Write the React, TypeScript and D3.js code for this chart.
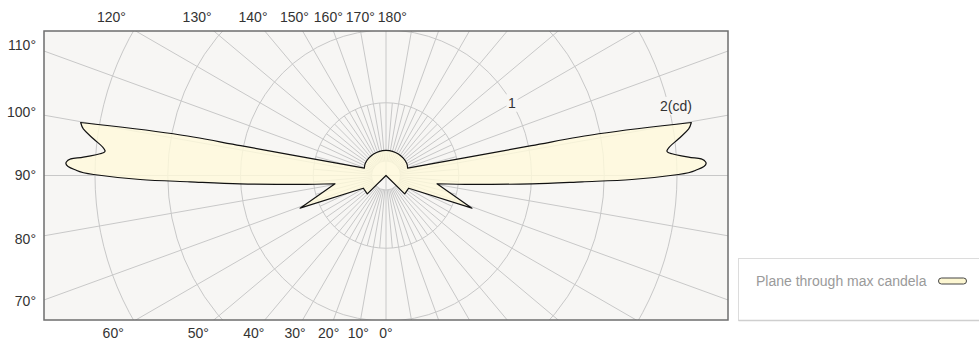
import React from 'react';
import * as d3 from 'd3';

// ---- data (vertical angle in degrees, 0 = nadir; values in cd) ----
const curveAngles = [0, 45.6, 60.8, 69.2, 80.8, 84, 86.75, 88.16, 89.07, 90.2, 90.93, 92.38, 93.46, 94.34, 95.08, 97.15, 98.77, 99.85, 101.1, 101.6, 108.6, 120, 135, 150, 165, 180];
const curveCandela = [0, 0.18, 0.179, 0.632, 0.355, 0.59, 1.005, 1.348, 1.69, 2.01, 2.126, 2.2, 2.084, 1.971, 1.939, 2.027, 2.105, 2.13, 1.49, 1.02, 0.157, 0.165, 0.168, 0.17, 0.172, 0.172];
const sharpAngles = [0, 45.6, 60.8, 69.2, 80.8, 99.85, 108.6];

const ringValues = [0.1, 0.5, 1, 1.5, 2];
const ringLabels = [{ v: 1, text: '1' }, { v: 2, text: '2(cd)' }];
const leftTicks = [110, 100, 90, 80, 70];
const topTicks = [120, 130, 140, 150, 160, 170, 180];
const bottomTicks = [60, 50, 40, 30, 20, 10, 0];
const legendLabel = 'Plane through max candela';

// ---- layout ----
const W = 979, H = 343;
const X0 = 44, Y0 = 31, X1 = 728, Y1 = 320;
const CX = (X0 + X1) / 2, CY = (Y0 + Y1) / 2;
const FONT = '"Liberation Sans", Arial, Helvetica, sans-serif';
const FS = 14;

export default function App() {
  const r = d3.scaleLinear().domain([0, 2]).range([0, 291]);
  const pt = (theta: number, v: number): [number, number] => {
    const a = (theta * Math.PI) / 180;
    return [CX - r(v) * Math.sin(a), CY + r(v) * Math.cos(a)];
  };

  // full plane: half plane + mirrored opposite half
  const full: { t: number; v: number; corner: boolean }[] = curveAngles.map((t, i) => ({
    t, v: curveCandela[i], corner: sharpAngles.includes(t),
  }));
  for (let i = curveAngles.length - 2; i >= 1; i--) {
    full.push({ t: 360 - curveAngles[i], v: curveCandela[i], corner: sharpAngles.includes(curveAngles[i]) });
  }
  const pts = full.map(d => pt(d.t, d.v));
  const n = pts.length;
  const tang = pts.map((p, i) => {
    if (full[i].corner) return [0, 0];
    const a = pts[(i - 1 + n) % n], b = pts[(i + 1) % n];
    const dx = b[0] - a[0], dy = b[1] - a[1];
    const L = Math.hypot(dx, dy) || 1;
    return [dx / L, dy / L];
  });
  const path = d3.path();
  path.moveTo(pts[0][0], pts[0][1]);
  for (let i = 0; i < n; i++) {
    const j = (i + 1) % n;
    const p = pts[i], q = pts[j];
    const d = Math.hypot(q[0] - p[0], q[1] - p[1]) / 3;
    path.bezierCurveTo(p[0] + tang[i][0] * d, p[1] + tang[i][1] * d, q[0] - tang[j][0] * d, q[1] - tang[j][1] * d, q[0], q[1]);
  }
  path.closePath();

  // rays
  const rays: { a: [number, number]; b: [number, number] }[] = [];
  for (let t = 0; t < 360; t += 5) {
    let from = 0.1, to = 3;
    if (t % 90 === 0) from = 0;
    else if (t % 10 !== 0) to = 0.5;
    rays.push({ a: pt(t, from), b: pt(t, to) });
  }

  // axis label positions
  const rayAtX = (t: number, X: number) => {
    const a = (t * Math.PI) / 180;
    const s = (CX - X) / Math.sin(a);
    return CY + s * Math.cos(a);
  };
  const rayAtY = (t: number, Y: number) => {
    const a = (t * Math.PI) / 180;
    const s = (Y - CY) / Math.cos(a);
    return CX - s * Math.sin(a);
  };
  const labelW = (s: string) => (s.length - 1) * 7.8 + 5.6;
  const topPos = topTicks.map(t => ({ t, x: rayAtY(t, Y0 - 14), w: labelW(t + '°') }));
  for (let i = 1; i < topPos.length; i++) {
    const prevEnd = topPos[i - 1].x + topPos[i - 1].w / 2;
    const start = topPos[i].x - topPos[i].w / 2;
    if (start < prevEnd + 3) topPos[i].x += prevEnd + 3 - start;
  }
  const bottomPos = bottomTicks.map(t => ({ t, x: rayAtY(t, Y1 + 13) }));
  const leftPos = leftTicks.map(t => ({ t, y: Math.min(Y1 - 19, Math.max(Y0 + 14, rayAtX(t, 24))) }));

  const ringLabelPos = [
    { ...ringLabels[0], p: pt(240, 1), w: 11 },
    { ...ringLabels[1], p: pt(256.5, 2.05), w: 38 },
  ];

  return (
    <svg width={W} height={H} style={{ position: 'absolute', left: 0, top: 0 }} fontFamily={FONT}>
      <defs>
        <clipPath id="plotClip">
          <rect x={X0} y={Y0} width={X1 - X0} height={Y1 - Y0} />
        </clipPath>
      </defs>
      <rect x={X0} y={Y0} width={X1 - X0} height={Y1 - Y0} fill="#f7f6f4" />
      <g clipPath="url(#plotClip)">
        {ringValues.map(v => (
          <circle key={v} cx={CX} cy={CY} r={r(v)} fill="none" stroke="#c8c8c8" strokeWidth={1} />
        ))}
        {rays.map((d, i) => (
          <line key={i} x1={d.a[0]} y1={d.a[1]} x2={d.b[0]} y2={d.b[1]} stroke="#c8c8c8" strokeWidth={1} />
        ))}
        <path d={path.toString()} fill="#fffadb" fillOpacity={0.8} stroke="#111" strokeWidth={1.2} strokeLinejoin="round" />
        {ringLabelPos.map(d => (
          <g key={d.text}>
            <rect x={d.p[0] - d.w / 2} y={d.p[1] - 9} width={d.w} height={18} fill="#f7f6f4" />
            <text x={d.p[0]} y={d.p[1]} dy="0.35em" textAnchor="middle" fontSize={FS} fill="#333">{d.text}</text>
          </g>
        ))}
      </g>
      <rect x={X0} y={Y0} width={X1 - X0} height={Y1 - Y0} fill="none" stroke="#6e6e6e" strokeWidth={1.5} />
      {topPos.map(d => (
        <text key={d.t} x={d.x} y={Y0 - 14} dy="0.35em" textAnchor="middle" fontSize={FS} fill="#333">{d.t}°</text>
      ))}
      {bottomPos.map(d => (
        <text key={d.t} x={d.x} y={Y1 + 13} dy="0.35em" textAnchor="middle" fontSize={FS} fill="#333">{d.t}°</text>
      ))}
      {leftPos.map(d => (
        <text key={d.t} x={36} y={d.y} dy="0.35em" textAnchor="end" fontSize={FS} fill="#333">{d.t}°</text>
      ))}
      <g>
        <rect x={738.5} y={258.5} width={250} height={62} fill="#fff" stroke="#dcdcdc" strokeWidth={1} />
        <line x1={738.5} x2={979} y1={320.5} y2={320.5} stroke="#cfcfcf" strokeWidth={1.5} />
        <text x={756} y={281} dy="0.35em" fontSize={FS} fill="#9a9a9a">{legendLabel}</text>
        <rect x={938.5} y={278} width={28} height={6} rx={3} fill="#fdf7d2" stroke="#444" strokeWidth={1} />
      </g>
    </svg>
  );
}
